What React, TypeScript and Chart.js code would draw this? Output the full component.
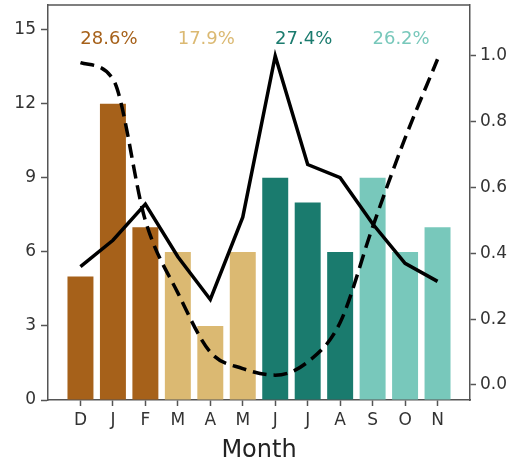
import React, { useEffect, useRef } from "react";
import { Chart, registerables } from "chart.js";

Chart.register(...registerables);

const MONTHS = ["D", "J", "F", "M", "A", "M", "J", "J", "A", "S", "O", "N"];
const COUNTS = [5, 12, 7, 6, 3, 6, 9, 8, 6, 9, 6, 7];
const SOLID_LINE = [0.36, 0.44, 0.55, 0.39, 0.26, 0.51, 1.0, 0.67, 0.63, 0.49, 0.37, 0.315];
const DASHED_LINE = [0.98, 0.93, 0.5, 0.28, 0.1, 0.05, 0.03, 0.07, 0.19, 0.48, 0.75, 0.99];
const SEASON_COLORS = ["#a6611a", "#dbb972", "#1a7b6e", "#78c8bb"];
const MONTH_SEASON = [0, 0, 0, 1, 1, 1, 2, 2, 2, 3, 3, 3];
const SEASON_LABELS = ["28.6%", "17.9%", "27.4%", "26.2%"];
const SEASON_MID = [1, 4, 7, 10];
const LEFT_TICKS = [0, 3, 6, 9, 12, 15];
const RIGHT_TICKS = [0, 0.2, 0.4, 0.6, 0.8, 1.0];

const TEXT = "#333333";
const SPINE = "#555555";
const FONT = "'DejaVu Sans', sans-serif";

const pctPlugin = {
  id: "pctLabels",
  afterDatasetsDraw(chart: any) {
    const { ctx, scales } = chart;
    ctx.save();
    ctx.font = `18px ${FONT}`;
    ctx.textAlign = "center";
    ctx.textBaseline = "middle";
    SEASON_LABELS.forEach((t, i) => {
      ctx.fillStyle = SEASON_COLORS[i];
      const x = scales.x.getPixelForValue(SEASON_MID[i]) - 4;
      const y = scales.y.getPixelForValue(14.6);
      ctx.fillText(t, x, y);
    });
    ctx.restore();
  },
};

const noPad = (axis: any) => {
  axis.paddingTop = 0;
  axis.paddingBottom = 0;
  axis.paddingLeft = 0;
  axis.paddingRight = 0;
};

export default function App() {
  const ref = useRef<HTMLCanvasElement>(null);
  useEffect(() => {
    const barColors = MONTH_SEASON.map((s) => SEASON_COLORS[s]);
    const chart = new Chart(ref.current!, {
      type: "bar",
      data: {
        datasets: [
          {
            type: "line",
            data: SOLID_LINE.map((v, i) => ({ x: i, y: v })),
            yAxisID: "y2",
            borderColor: "#000",
            borderWidth: 3.5,
            pointRadius: 0,
            pointHoverRadius: 0,
            tension: 0,
            order: 1,
          } as any,
          {
            type: "line",
            data: DASHED_LINE.map((v, i) => ({ x: i, y: v })),
            yAxisID: "y2",
            borderColor: "#000",
            borderWidth: 3.5,
            borderDash: [14, 7],
            pointRadius: 0,
            pointHoverRadius: 0,
            cubicInterpolationMode: "monotone",
            order: 2,
          } as any,
          {
            type: "bar",
            data: COUNTS.map((v, i) => ({ x: i, y: v })),
            yAxisID: "y",
            backgroundColor: barColors,
            borderWidth: 0,
            barPercentage: 0.8,
            categoryPercentage: 1.0,
            order: 3,
          } as any,
        ],
      },
      options: {
        responsive: false,
        animation: false,
        layout: { autoPadding: false, padding: { top: 5, left: 0, right: 0, bottom: 0 } },
        plugins: { legend: { display: false }, tooltip: { enabled: false } },
        scales: {
          x: {
            type: "linear",
            min: -1,
            max: 12,
            offset: false,
            afterBuildTicks: (axis: any) => {
              axis.ticks = MONTHS.map((_, i) => ({ value: i }));
            },
            afterFit: (axis: any) => {
              axis.height = 65;
              noPad(axis);
            },
            grid: {
              display: true,
              drawOnChartArea: false,
              drawTicks: true,
              tickLength: 6,
              tickWidth: 1.5,
              tickColor: SPINE,
              offset: false,
            },
            border: { display: true, color: SPINE, width: 1.5 },
            ticks: {
              autoSkip: false,
              maxRotation: 0,
              padding: 4,
              color: TEXT,
              font: { family: FONT, size: 17 },
              callback: (v: any) => MONTHS[Math.round(Number(v))] ?? "",
            },
            title: {
              display: true,
              text: "Month",
              color: "#222",
              font: { family: FONT, size: 24 },
              padding: { top: 0, bottom: 0 },
            },
          },
          y: {
            type: "linear",
            position: "left",
            min: 0,
            max: 16,
            afterBuildTicks: (axis: any) => {
              axis.ticks = LEFT_TICKS.map((v) => ({ value: v }));
            },
            afterFit: (axis: any) => {
              axis.width = 48;
              noPad(axis);
            },
            grid: {
              drawOnChartArea: false,
              drawTicks: true,
              tickLength: 7,
              tickWidth: 1.5,
              tickColor: SPINE,
            },
            border: { display: true, color: SPINE, width: 1.5 },
            ticks: {
              padding: 5,
              color: TEXT,
              font: { family: FONT, size: 17 },
              callback: (v: any) => String(v),
            },
          },
          y2: {
            type: "linear",
            position: "right",
            min: -0.0456,
            max: 1.155,
            afterBuildTicks: (axis: any) => {
              axis.ticks = RIGHT_TICKS.map((v) => ({ value: v }));
            },
            afterFit: (axis: any) => {
              axis.width = 46;
              noPad(axis);
            },
            grid: {
              drawOnChartArea: false,
              drawTicks: true,
              tickLength: 6,
              tickWidth: 1.5,
              tickColor: SPINE,
            },
            border: { display: true, color: SPINE, width: 1.5 },
            ticks: {
              padding: 4,
              color: TEXT,
              font: { family: FONT, size: 17 },
              callback: (v: any) => Number(v).toFixed(1),
            },
          },
        },
      },
      plugins: [
        pctPlugin,
        {
          id: "topSpine",
          afterDraw(chart: any) {
            const { ctx, chartArea } = chart;
            ctx.save();
            ctx.strokeStyle = SPINE;
            ctx.lineWidth = 1.5;
            ctx.beginPath();
            ctx.moveTo(chartArea.left, chartArea.top);
            ctx.lineTo(chartArea.right, chartArea.top);
            ctx.stroke();
            ctx.restore();
          },
        },
      ],
    } as any);
    return () => chart.destroy();
  }, []);

  return (
    <div style={{ position: "fixed", left: 0, top: 0, width: 516, height: 465, background: "#fff" }}>
      <canvas ref={ref} width={516} height={465} style={{ display: "block" }} />
    </div>
  );
}
